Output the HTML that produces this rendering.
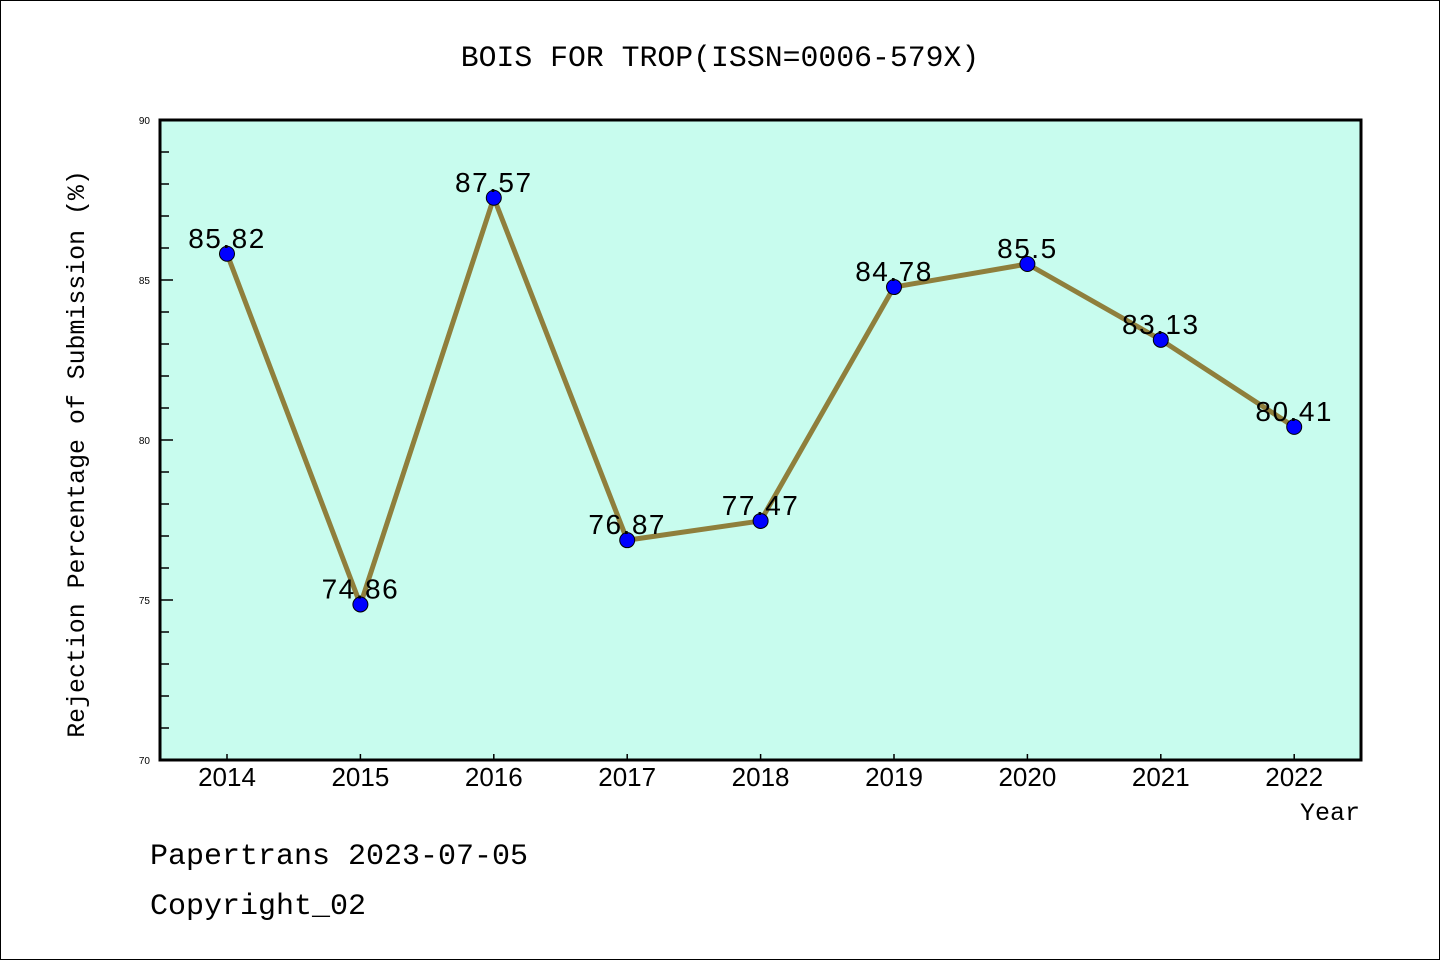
<!DOCTYPE html>
<html><head><meta charset="utf-8"><style>
body{margin:0;background:#fff}
svg{display:block}
.m{font-family:"Liberation Mono","WenQuanYi Zen Hei",monospace}
.s{font-family:"Liberation Sans","WenQuanYi Zen Hei",sans-serif}
</style></head><body>
<svg id="c" width="1440" height="960">
<rect x="0.5" y="0.5" width="1439" height="959" fill="#fff" stroke="#000"/>
<text x="720" y="66" text-anchor="middle" font-size="29.8" class="m">BOIS FOR TROP(ISSN=0006-579X)</text>
<rect x="160" y="120" width="1201" height="640" fill="#c8fcee" stroke="#000" stroke-width="3"/>
<g id="yt"></g><g id="xt"></g><g id="ser"></g>
<text transform="translate(84,454) rotate(-90)" text-anchor="middle" font-size="24.9" class="m">Rejection Percentage of Submission (%)</text>
<text x="1360" y="820" text-anchor="end" font-size="25" class="m">Year</text>
<text x="150" y="864" font-size="30" class="m">Papertrans 2023-07-05</text>
<text x="150" y="914" font-size="30" class="m">Copyright_02</text>
</svg>
<script>
const years=["2014","2015","2016","2017","2018","2019","2020","2021","2022"];
const values=[85.82,74.86,87.57,76.87,77.47,84.78,85.5,83.13,80.41];
const labels=["85.82","74.86","87.57","76.87","77.47","84.78","85.5","83.13","80.41"];
const yTicks=[70,75,80,85,90];
const NS="http://www.w3.org/2000/svg";
const y=v=>760-(v-70)*32;
const x=i=>227+i*133.4;
function mk(t,a,p){const e=document.createElementNS(NS,t);for(const k in a)e.setAttribute(k,a[k]);p.appendChild(e);return e;}
const yt=document.getElementById('yt'),xt=document.getElementById('xt'),ser=document.getElementById('ser');
for(let v=70;v<=90;v++){
 const major=v%5===0;
 const l=mk('line',{x1:160,x2:major?173:169,y1:y(v),y2:y(v),stroke:'#000','stroke-width':1.5},yt);
 
 
}
yTicks.forEach(v=>{
 const t=mk('text',{x:150,y:y(v)+4,'text-anchor':'end','font-size':10,class:'s'},yt);
 t.textContent=v;
 
 
});
years.forEach((yr,i)=>{
 const l=mk('line',{x1:x(i),x2:x(i),y1:754,y2:760,stroke:'#000','stroke-width':1.5},xt);
 
 
 const t=mk('text',{x:x(i),y:786,'text-anchor':'middle','font-size':26,class:'s'},xt);
 t.textContent=yr;
 
 
});
const pl=mk('polyline',{points:values.map((v,i)=>x(i)+','+y(v)).join(' '),fill:'none',stroke:'#8f7f3c','stroke-width':5,'stroke-linejoin':'round'},ser);


values.forEach((v,i)=>{
 const c=mk('circle',{cx:x(i),cy:y(v),r:7.5,fill:'#0000ff',stroke:'#000','stroke-width':1},ser);
 
 
 const t=mk('text',{x:x(i),y:y(v)-6,'text-anchor':'middle','font-size':28,'letter-spacing':'1.5',class:'s'},ser);
 t.textContent=labels[i];
 
 
});
</script>
</body></html>
